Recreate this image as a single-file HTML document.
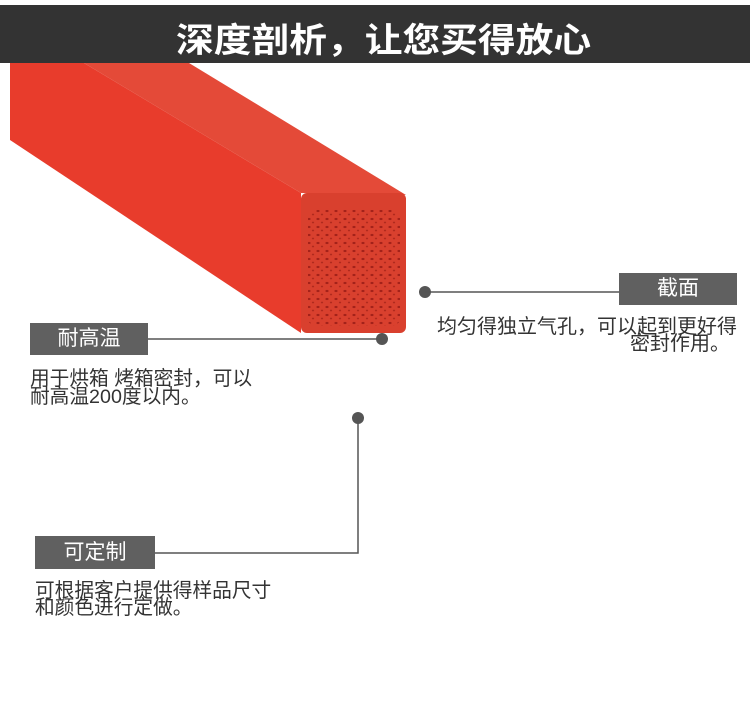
<!DOCTYPE html>
<html><head><meta charset="utf-8"><style>
body{margin:0;width:750px;height:726px;background:#fff;position:relative;overflow:hidden;font-family:"Liberation Sans","Noto Sans CJK SC",sans-serif}
.hdr{position:absolute;left:0;top:5px;width:750px;height:58px;background:#333}
.hdr span{position:absolute;left:176px;top:8px;font-size:34px;font-weight:bold;color:#fff;transform:scaleX(1.11);transform-origin:left top;white-space:nowrap}
.box{position:absolute;background:#606060;color:#fff;font-size:21px;text-align:center}
.t{position:absolute;font-size:19.7px;line-height:18px;color:#333;white-space:nowrap}
</style></head><body>
<svg width="750" height="726" style="position:absolute;left:0;top:0">
<defs>
<pattern id="p" width="9" height="8" patternUnits="userSpaceOnUse">
<rect width="9" height="8" fill="#d9402e"/>
<ellipse cx="3" cy="3" rx="1.6" ry="1.1" fill="#a4221a"/>
<ellipse cx="7" cy="6.5" rx="1.2" ry="0.9" fill="#b02a1e"/>
</pattern>
</defs>
<polygon points="10,63 84,63 301,193 301,333 10,140" fill="#e83c2c"/>
<polygon points="84,63 189,63 406,195 301,193" fill="#e44a38"/>
<rect x="301" y="193" width="105" height="140" rx="6" fill="#d9402e"/>
<rect x="308" y="210" width="92" height="116" rx="8" fill="url(#p)"/>
<circle cx="425" cy="292" r="6" fill="#555"/>
<line x1="425" y1="292" x2="619" y2="292" stroke="#555" stroke-width="1.5"/>
<circle cx="382" cy="339" r="6" fill="#555"/>
<line x1="148" y1="339" x2="382" y2="339" stroke="#555" stroke-width="1.5"/>
<circle cx="358" cy="418" r="6" fill="#555"/>
<polyline points="358,418 358,553 155,553" fill="none" stroke="#555" stroke-width="1.5"/>
</svg>
<div class="hdr"><span>深度剖析，让您买得放心</span></div>
<div class="box" style="left:619px;top:273px;width:118px;height:32px;line-height:32px">截面</div>
<div class="t" style="left:437px;top:317px;font-size:20px;line-height:20px">均匀得独立气孔，可以起到更好得</div>
<div class="t" style="left:630px;top:334px;font-size:20px;line-height:20px">密封作用。</div>
<div class="box" style="left:30px;top:323px;width:118px;height:32px;line-height:32px">耐高温</div>
<div class="t" style="left:30px;top:370px">用于烘箱 烤箱密封，可以</div>
<div class="t" style="left:30px;top:388px">耐高温200度以内。</div>
<div class="box" style="left:35px;top:536px;width:120px;height:33px;line-height:33px">可定制</div>
<div class="t" style="left:35px;top:582px">可根据客户提供得样品尺寸</div>
<div class="t" style="left:35px;top:599px">和颜色进行定做。</div>
</body></html>
